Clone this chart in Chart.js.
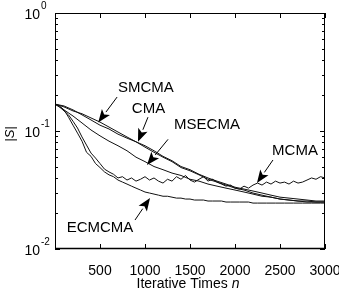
<!DOCTYPE html>
<html>
<head>
<meta charset="utf-8">
<script src="https://cdn.jsdelivr.net/npm/chart.js@4.4.1/dist/chart.umd.min.js"></script>
<style>
  html, body { margin: 0; padding: 0; background: #fff; }
</style>
</head>
<body>
<canvas id="grafica" width="339" height="292"></canvas>
<script>
// iteration counts
const nGrueso = [0, 100, 200, 300, 400, 500, 600, 700, 800, 900, 1000, 1100, 1200, 1300, 1400, 1500,
  1600, 1700, 1800, 1900, 2000, 2100, 2200, 2300, 2400, 2500, 2600, 2700, 2800, 2900, 3000];
const nFino = [0, 50, 100, 150, 200, 250, 300, 350, 400, 450, 500, 550, 600, 650, 700, 750, 800, 850,
  900, 950, 1000, 1050, 1100, 1150, 1200, 1250, 1300, 1350, 1400, 1450, 1500, 1550, 1600, 1650, 1700,
  1750, 1800, 1850, 1900, 1950, 2000, 2050, 2100, 2150, 2200, 2250, 2300, 2350, 2400, 2450, 2500,
  2550, 2600, 2650, 2700, 2750, 2800, 2850, 2900, 2950, 3000];

// |S| for each algorithm
const smcma = [0.169, 0.160, 0.148, 0.140, 0.129, 0.119, 0.108, 0.098, 0.089, 0.081, 0.075, 0.068,
  0.061, 0.056, 0.050, 0.047, 0.043, 0.040, 0.0376, 0.0355, 0.0334, 0.0322, 0.0310, 0.0298, 0.0286,
  0.0275, 0.0270, 0.0265, 0.0260, 0.0255, 0.0255];
const cma = [0.169, 0.163, 0.151, 0.137, 0.124, 0.112, 0.104, 0.094, 0.087, 0.081, 0.073, 0.066,
  0.060, 0.055, 0.049, 0.046, 0.0425, 0.039, 0.0369, 0.0348, 0.0328, 0.0316, 0.0298, 0.0286, 0.0275,
  0.0265, 0.0260, 0.0255, 0.0255, 0.0250, 0.0250];
const msecma = [0.169, 0.151, 0.134, 0.117, 0.102, 0.091, 0.082, 0.075, 0.068, 0.060, 0.055, 0.050,
  0.047, 0.044, 0.042, 0.039, 0.0376, 0.0355, 0.0341, 0.0328, 0.0316, 0.0304, 0.0292, 0.0280, 0.0275,
  0.0265, 0.0260, 0.0255, 0.0250, 0.0250, 0.0250];
const ecmcma = [0.169, 0.163, 0.151, 0.131, 0.112, 0.096, 0.082, 0.066, 0.061, 0.053, 0.049, 0.045,
  0.0425, 0.041, 0.0384, 0.0369, 0.0355, 0.0341, 0.0328, 0.0316, 0.0304, 0.0298, 0.0292, 0.0286,
  0.0280, 0.0280, 0.0275, 0.0270, 0.0270, 0.0265, 0.0265, 0.0260, 0.0260, 0.0260, 0.0255, 0.0255,
  0.0255, 0.0255, 0.0250, 0.0250, 0.0250, 0.0250, 0.0250, 0.0250, 0.0245, 0.0245, 0.0245, 0.0245,
  0.0245, 0.0245, 0.0245, 0.0245, 0.0245, 0.0245, 0.0245, 0.0245, 0.0245, 0.0245, 0.0245, 0.0245, 0.0245];
const mcma = [0.169, 0.160, 0.148, 0.137, 0.121, 0.106, 0.089, 0.076, 0.065, 0.059, 0.053, 0.0475,
  0.045, 0.043, 0.040, 0.041, 0.0384, 0.040, 0.0376, 0.039, 0.041, 0.0384, 0.040, 0.0376, 0.0362,
  0.039, 0.0376, 0.041, 0.039, 0.042, 0.0384, 0.0369, 0.039, 0.041, 0.0376, 0.039, 0.0369, 0.0355,
  0.0341, 0.0348, 0.0328, 0.0322, 0.0341, 0.0328, 0.0348, 0.0362, 0.0348, 0.0369, 0.0355, 0.0376,
  0.0362, 0.0369, 0.0355, 0.0376, 0.0362, 0.0369, 0.0384, 0.040, 0.039, 0.041, 0.040];

const ticksX = [500, 1000, 1500, 2000, 2500, 3000];
const exponentesY = [0, -1, -2];

// labels and arrows, in data units (n, |S|)
const etiquetas = [
  { texto: 'SMCMA', n: 1010, v: 0.232, desdeN: 690, desdeV: 0.194, hastaN: 480, hastaV: 0.118 },
  { texto: 'CMA', n: 1039, v: 0.154, desdeN: 1033, desdeV: 0.131, hastaN: 922, hastaV: 0.081 },
  { texto: 'MSECMA', n: 1689, v: 0.112, desdeN: 1256, desdeV: 0.085, hastaN: 1022, hastaV: 0.0515 },
  { texto: 'MCMA', n: 2667, v: 0.0677, desdeN: 2422, desdeV: 0.0568, hastaN: 2244, hastaV: 0.0362 },
  { texto: 'ECMCMA', n: 500, v: 0.0151, desdeN: 889, desdeV: 0.0176, hastaN: 1056, hastaV: 0.0271 }
];

const fuente = '"Liberation Sans", Arial, sans-serif';

function serie(xs, ys) {
  return xs.map((x, i) => ({ x: x, y: ys[i] }));
}

function linea(nombre, xs, ys) {
  return {
    label: nombre,
    data: serie(xs, ys),
    borderColor: '#111',
    borderWidth: 1,
    pointRadius: 0,
    tension: 0,
    fill: false
  };
}

function flecha(ctx, x1, y1, x2, y2) {
  const ang = Math.atan2(y2 - y1, x2 - x1);
  const largo = 13, ancho = 5;
  const bx = x2 - largo * Math.cos(ang), by = y2 - largo * Math.sin(ang);
  ctx.beginPath();
  ctx.moveTo(x1, y1);
  ctx.lineTo(bx, by);
  ctx.stroke();
  const nx = -Math.sin(ang), ny = Math.cos(ang);
  const mx = x2 - 10 * Math.cos(ang), my = y2 - 10 * Math.sin(ang);
  ctx.beginPath();
  ctx.moveTo(x2, y2);
  ctx.lineTo(bx + nx * ancho, by + ny * ancho);
  ctx.lineTo(mx, my);
  ctx.lineTo(bx - nx * ancho, by - ny * ancho);
  ctx.closePath();
  ctx.fill();
}

const decorado = {
  id: 'decorado',
  afterDraw(chart) {
    const ctx = chart.ctx;
    const a = chart.chartArea;
    const sx = chart.scales.x, sy = chart.scales.y;
    ctx.save();
    ctx.strokeStyle = '#000';
    ctx.fillStyle = '#000';
    ctx.lineWidth = 1;
    // box
    ctx.strokeRect(a.left + 0.5, a.top + 0.5, a.right - a.left - 1, a.bottom - a.top - 1);
    ctx.lineWidth = 1.5;
    ctx.beginPath();
    ctx.moveTo(a.left, a.bottom - 0.5);
    ctx.lineTo(a.right, a.bottom - 0.5);
    ctx.stroke();
    ctx.lineWidth = 1;
    // inward ticks on x
    ctx.beginPath();
    ticksX.forEach(t => {
      const px = Math.round(sx.getPixelForValue(t)) + 0.5;
      ctx.moveTo(px, a.bottom); ctx.lineTo(px, a.bottom - 5);
      ctx.moveTo(px, a.top); ctx.lineTo(px, a.top + 5);
    });
    // inward ticks on y, major and minor
    for (let e = -2; e < 0; e++) {
      for (let m = 1; m <= 9; m++) {
        const py = Math.round(sy.getPixelForValue(m * Math.pow(10, e))) + 0.5;
        const l = m === 1 ? 5 : 3;
        ctx.moveTo(a.left, py); ctx.lineTo(a.left + l, py);
        ctx.moveTo(a.right, py); ctx.lineTo(a.right - l, py);
      }
    }
    ctx.stroke();

    // y tick labels with superscripts
    exponentesY.forEach(e => {
      const py = sy.getPixelForValue(Math.pow(10, e));
      ctx.font = '14px ' + fuente;
      ctx.textAlign = 'right';
      ctx.textBaseline = 'middle';
      ctx.fillText('10', 40, py + 2);
      ctx.font = '10px ' + fuente;
      ctx.textAlign = 'left';
      ctx.fillText(String(e), 41, py - 7);
    });

    // x title
    ctx.textBaseline = 'middle';
    ctx.textAlign = 'left';
    const t1 = 'Iterative Times ';
    ctx.font = 'italic 14px ' + fuente;
    const w2 = ctx.measureText('n').width;
    ctx.font = '14px ' + fuente;
    const w1 = ctx.measureText(t1).width;
    const cx = (a.left + a.right) / 2 - 2;
    const x0 = cx - (w1 + w2) / 2;
    ctx.fillText(t1, x0, 284);
    ctx.font = 'italic 14px ' + fuente;
    ctx.fillText('n', x0 + w1, 284);

    // y title
    ctx.save();
    ctx.translate(10, 134);
    ctx.rotate(-Math.PI / 2);
    ctx.textAlign = 'center';
    ctx.font = 'italic 13px ' + fuente;
    ctx.fillText('|S|', 0, 0);
    ctx.restore();

    // annotations
    ctx.font = '15px ' + fuente;
    ctx.textAlign = 'center';
    ctx.textBaseline = 'middle';
    etiquetas.forEach(et => {
      ctx.fillText(et.texto, sx.getPixelForValue(et.n), sy.getPixelForValue(et.v));
      flecha(ctx,
        sx.getPixelForValue(et.desdeN), sy.getPixelForValue(et.desdeV),
        sx.getPixelForValue(et.hastaN), sy.getPixelForValue(et.hastaV));
    });
    ctx.restore();
  }
};

new Chart(document.getElementById('grafica'), {
  type: 'line',
  data: {
    datasets: [
      linea('SMCMA', nGrueso, smcma),
      linea('CMA', nGrueso, cma),
      linea('MSECMA', nGrueso, msecma),
      linea('ECMCMA', nFino, ecmcma),
      linea('MCMA', nFino, mcma)
    ]
  },
  options: {
    responsive: false,
    animation: false,
    devicePixelRatio: 1,
    layout: { padding: { top: 13, right: 14, left: 0, bottom: 0 } },
    plugins: { legend: { display: false }, tooltip: { enabled: false } },
    scales: {
      x: {
        type: 'linear',
        min: 0,
        max: 3000,
        grid: { display: false },
        border: { display: false },
        ticks: {
          stepSize: 500,
          autoSkip: false,
          maxRotation: 0,
          padding: 6,
          color: '#000',
          font: { family: fuente, size: 14 },
          callback: v => (v === 0 ? '' : String(v))
        },
        afterFit: s => { s.height = 43; s.paddingLeft = 0; s.paddingRight = 0; }
      },
      y: {
        type: 'logarithmic',
        min: 0.01,
        max: 1,
        grid: { display: false },
        border: { display: false },
        ticks: { display: false },
        afterFit: s => { s.width = 55; s.paddingTop = 0; s.paddingBottom = 0; }
      }
    }
  },
  plugins: [decorado]
});
</script>
</body>
</html>
